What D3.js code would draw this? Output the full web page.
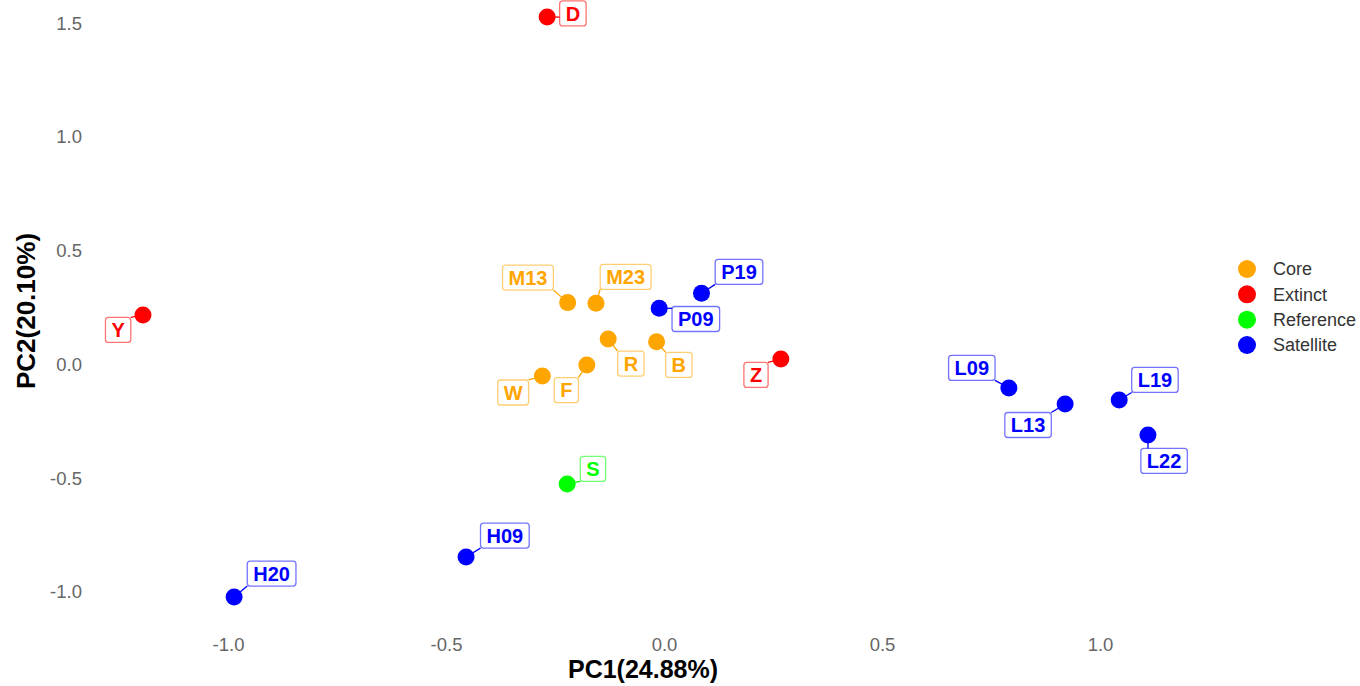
<!DOCTYPE html>
<html>
<head>
<meta charset="utf-8">
<script src="https://cdn.jsdelivr.net/npm/d3@7"></script>
<style>
  body { margin: 0; background: #fff; }
  text { font-family: "Liberation Sans", Arial, sans-serif; }
</style>
</head>
<body>
<div id="chart"></div>
<script>
// PCA scores
const names = ["D", "Y", "Z", "M13", "M23", "R", "B", "F", "W", "P09", "P19", "S", "H09", "H20", "L09", "L13", "L19", "L22"];
const groups = ["Extinct", "Extinct", "Extinct", "Core", "Core", "Core", "Core", "Core", "Core",
    "Satellite", "Satellite", "Reference", "Satellite", "Satellite", "Satellite", "Satellite", "Satellite", "Satellite"];
const pc1 = [-0.268, -1.195, 0.268, -0.221, -0.156, -0.128, -0.017, -0.177, -0.279, -0.011, 0.086, -0.222, -0.454, -0.986, 0.791, 0.920, 1.044, 1.110];
const pc2 = [1.527, 0.218, 0.024, 0.272, 0.269, 0.112, 0.100, -0.002, -0.051, 0.247, 0.313, -0.525, -0.846, -1.022, -0.103, -0.174, -0.156, -0.310];
// where the repelled labels ended up (data units)
const labelPc1 = [-0.209, -1.252, 0.211, -0.312, -0.088, -0.076, 0.034, -0.224, -0.346, 0.073, 0.172, -0.163, -0.365, -0.900, 0.706, 0.835, 1.126, 1.147];
const labelPc2 = [1.543, 0.152, -0.046, 0.382, 0.385, 0.004, -0.002, -0.113, -0.123, 0.200, 0.407, -0.459, -0.752, -0.919, -0.015, -0.266, -0.068, -0.424];

const groupNames = ["Core", "Extinct", "Reference", "Satellite"];
const groupColors = ["#FFA500", "#FF0000", "#00FF00", "#0000FF"];
const xTicks = [-1.0, -0.5, 0.0, 0.5, 1.0];
const yTicks = [-1.0, -0.5, 0.0, 0.5, 1.0, 1.5];
const xTitle = "PC1(24.88%)";
const yTitle = "PC2(20.10%)";

let width = 1360, height = 686;

let svg = d3.select("#chart").append("svg")
    .attr("width", width)
    .attr("height", height)
    .style("background", "#fff");

let xScale = d3.scaleLinear().domain([-1, 1]).range([228, 1100]);
let yScale = d3.scaleLinear().domain([-1, 1.5]).range([592, 23.25]);
let color = d3.scaleOrdinal().domain(groupNames).range(groupColors);

// Axes (no lines, no ticks, only labels)
let xAxis = svg.append("g")
    .attr("transform", "translate(0,636)")
    .call(d3.axisBottom(xScale).tickValues(xTicks).tickSize(0).tickPadding(2)
        .tickFormat(d => d.toFixed(1)));
let yAxis = svg.append("g")
    .attr("transform", "translate(84,0)")
    .call(d3.axisLeft(yScale).tickValues(yTicks).tickSize(0).tickPadding(2)
        .tickFormat(d => d.toFixed(1)));
[xAxis, yAxis].forEach(g => {
    g.select(".domain").remove();
    g.selectAll("text")
        .attr("fill", "#666")
        .style("font-size", "18.5px")
        .style("font-family", "'Liberation Sans', Arial, sans-serif");
});

// Axis titles
svg.append("text")
    .attr("x", 643)
    .attr("y", 678)
    .attr("text-anchor", "middle")
    .style("font-size", "25px")
    .style("font-weight", "bold")
    .attr("fill", "#000")
    .text(xTitle);

svg.append("text")
    .attr("transform", "translate(35,311) rotate(-90)")
    .attr("text-anchor", "middle")
    .style("font-size", "26px")
    .style("font-weight", "bold")
    .attr("fill", "#000")
    .text(yTitle);

let data = names.map((n, i) => ({
    name: n, group: groups[i],
    x: pc1[i], y: pc2[i],
    lx: labelPc1[i], ly: labelPc2[i]
}));

// measure label sizes first
let labelG = svg.append("g");
let padX = 6, boxH = 25;
data.forEach(d => {
    let t = labelG.append("text")
        .style("font-size", "20px")
        .style("font-weight", "bold")
        .text(d.name);
    d.w = t.node().getComputedTextLength() + 2 * padX;
    t.remove();
});

// segments from point to nearest edge of label box
let segG = svg.append("g");
data.forEach(d => {
    let px = xScale(d.x), py = yScale(d.y);
    let cx = xScale(d.lx), cy = yScale(d.ly);
    let ex = Math.max(cx - d.w / 2, Math.min(px, cx + d.w / 2));
    let ey = Math.max(cy - boxH / 2, Math.min(py, cy + boxH / 2));
    segG.append("line")
        .attr("x1", px).attr("y1", py)
        .attr("x2", ex).attr("y2", ey)
        .attr("stroke", color(d.group))
        .attr("stroke-width", 1.3);
});

// points
svg.append("g").selectAll("circle")
    .data(data)
    .join("circle")
    .attr("cx", d => xScale(d.x))
    .attr("cy", d => yScale(d.y))
    .attr("r", 8.5)
    .attr("fill", d => color(d.group));

// labels
let lab = labelG.selectAll("g.lab")
    .data(data)
    .join("g")
    .attr("class", "lab")
    .attr("transform", d => "translate(" + xScale(d.lx) + "," + yScale(d.ly) + ")");

lab.append("rect")
    .attr("x", d => -d.w / 2)
    .attr("y", -boxH / 2)
    .attr("width", d => d.w)
    .attr("height", boxH)
    .attr("rx", 3)
    .attr("fill", "#fff")
    .attr("stroke", d => color(d.group))
    .attr("stroke-opacity", 0.55)
    .attr("stroke-width", 1.3);

lab.append("text")
    .attr("text-anchor", "middle")
    .attr("dy", "0.36em")
    .style("font-size", "20px")
    .style("font-weight", "bold")
    .attr("fill", d => color(d.group))
    .text(d => d.name);

// Legend
let legY = d3.scalePoint().domain(groupNames).range([269, 345]);
let legend = svg.append("g");
legend.selectAll("circle")
    .data(groupNames)
    .join("circle")
    .attr("cx", 1247)
    .attr("cy", d => legY(d))
    .attr("r", 9)
    .attr("fill", d => color(d));
legend.selectAll("text")
    .data(groupNames)
    .join("text")
    .attr("x", 1273)
    .attr("y", d => legY(d))
    .attr("dy", "0.35em")
    .style("font-size", "18px")
    .attr("fill", "#333")
    .text(d => d);
</script>
</body>
</html>
